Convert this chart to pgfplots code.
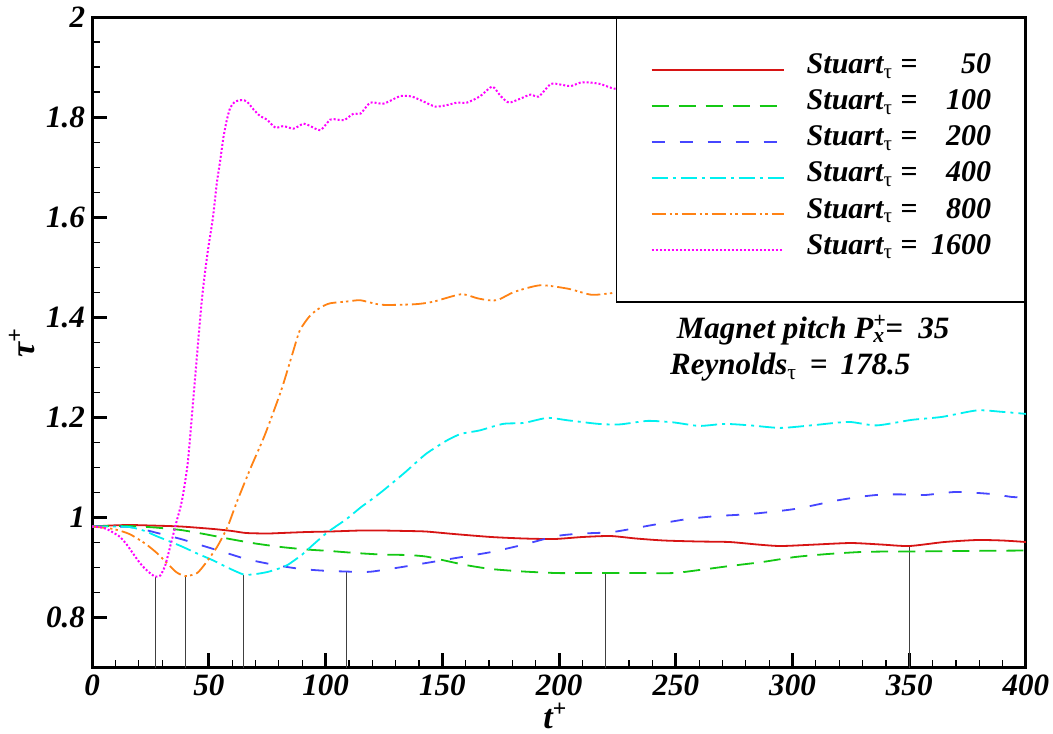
\documentclass[border=0pt]{standalone}
\usepackage{fontspec}
\setmainfont{Liberation Serif}
\usepackage{pgfplots}
\pgfplotsset{compat=1.18}
\usetikzlibrary{calc}
\definecolor{cRed}{RGB}{215,20,20}
\definecolor{cGreen}{RGB}{20,200,20}
\definecolor{cBlue}{RGB}{70,70,255}
\definecolor{cCyan}{RGB}{0,240,240}
\definecolor{cOrange}{RGB}{255,130,20}
\definecolor{cMag}{RGB}{255,0,255}
\begin{document}
\begin{tikzpicture}[font=\fontsize{15}{18}\selectfont\bfseries\itshape]
\begin{axis}[
  scale only axis, width=466.5pt, height=325pt,
  xmin=0, xmax=400, ymin=0.7, ymax=2,
  xtick={0,50,...,400}, ytick={0.8,1,1.2,1.4,1.6,1.8,2},
  minor x tick num=4, minor y tick num=3,
  tick align=inside, xtick pos=bottom, ytick pos=left,
  major tick length=7.5pt, minor tick length=4pt,
  axis line style={line width=1.5pt},
  every tick/.style={black},
  major tick style={line width=1.5pt},
  minor tick style={line width=0.6pt},
  /pgf/number format/assume math mode=true,
  ticklabel style={font=\fontsize{15.5}{18}\selectfont\bfseries\itshape},
  xlabel={t\textsuperscript{+}}, ylabel={τ\textsuperscript{+}},
  label style={font=\fontsize{17}{20}\selectfont\bfseries\itshape},
  xlabel style={at={(axis description cs:0.496,-0.074)}, anchor=center},
  ylabel style={at={(axis description cs:-0.075,0.5)}, anchor=center},
  legend style={at={(1,1)}, anchor=north east, draw=black, line width=0.8pt, fill=white,
    inner xsep=17pt, inner ysep=17pt, row sep=0pt,
    font=\fontsize{15}{18}\selectfont\bfseries\itshape,
    nodes={inner sep=0pt, text height=11pt, text depth=7pt}},
  legend image code/.code={\draw[#1] (0pt,0pt) -- (66pt,0pt);},
  legend cell align=left,
  legend style={/tikz/every odd column/.append style={column sep=11pt}},
  smooth, tension=0.4,
]
% minimum markers
\addplot[black!75, line width=0.5pt, forget plot, sharp plot] coordinates {(27,0.7) (27,0.882)};
\addplot[black!75, line width=0.5pt, forget plot, sharp plot] coordinates {(40,0.7) (40,0.883)};
\addplot[black!75, line width=0.5pt, forget plot, sharp plot] coordinates {(65,0.7) (65,0.886)};
\addplot[black!75, line width=0.5pt, forget plot, sharp plot] coordinates {(109,0.7) (109,0.892)};
\addplot[black!75, line width=0.5pt, forget plot, sharp plot] coordinates {(220,0.7) (220,0.889)};
\addplot[black!75, line width=0.5pt, forget plot, sharp plot] coordinates {(350,0.7) (350,0.943)};

\addplot[cRed, line width=0.9pt] coordinates {
(0,0.982) (8,0.984) (16,0.985) (25,0.984) (38,0.982) (52,0.977) (60,0.973) (66,0.969) (75,0.968) (81,0.969) (92,0.971) (102,0.972) (115,0.974) (124,0.974) (135,0.973) (143,0.972) (155,0.967) (171,0.961) (185,0.958) (198,0.957) (210,0.961) (222,0.963) (233,0.958) (245,0.954) (260,0.952) (273,0.951) (285,0.946) (295,0.943) (310,0.946) (325,0.949) (338,0.946) (350,0.943) (365,0.951) (379,0.955) (390,0.954) (400,0.951)};
\addlegendentry{Stuart\textsubscript{\normalfont τ} = \makebox[33pt][r]{50}}

\addplot[cGreen, line width=0.9pt, dash pattern=on 8.5pt off 5pt] coordinates {
(0,0.982) (8,0.983) (16,0.983) (27,0.98) (38,0.975) (48,0.967) (59,0.957) (70,0.948) (81,0.941) (92,0.936) (102,0.933) (113,0.929) (124,0.926) (135,0.925) (143,0.922) (152,0.913) (160,0.905) (171,0.897) (185,0.892) (199,0.889) (210,0.889) (220,0.889) (235,0.889) (249,0.889) (260,0.895) (273,0.903) (287,0.911) (301,0.921) (315,0.927) (329,0.931) (340,0.932) (350,0.932) (370,0.933) (400,0.934)};
\addlegendentry{Stuart\textsubscript{\normalfont τ} = \makebox[33pt][r]{100}}

\addplot[cBlue, line width=0.9pt, dash pattern=on 6.5pt off 7.5pt] coordinates {
(0,0.982) (9,0.982) (16,0.981) (22,0.976) (28,0.969) (38,0.957) (45,0.947) (52,0.937) (59,0.927) (66,0.917) (74,0.909) (81,0.903) (88,0.898) (95,0.895) (102,0.893) (109,0.892) (115,0.891) (120,0.892) (130,0.899) (143,0.909) (157,0.92) (171,0.931) (185,0.946) (199,0.963) (210,0.968) (223,0.971) (240,0.985) (255,0.997) (268,1.003) (282,1.007) (301,1.017) (319,1.034) (330,1.042) (339,1.046) (350,1.046) (357,1.045) (370,1.051) (385,1.047) (394,1.041) (400,1.04)};
\addlegendentry{Stuart\textsubscript{\normalfont τ} = \makebox[33pt][r]{200}}

\addplot[cCyan, line width=0.9pt, dash pattern=on 8pt off 2.5pt on 1.5pt off 2.5pt] coordinates {
(0,0.982) (9,0.982) (16,0.981) (22,0.974) (28,0.962) (38,0.943) (45,0.928) (52,0.914) (58,0.9) (65,0.886) (70,0.887) (75,0.891) (80,0.898) (84,0.906) (90,0.926) (95,0.947) (101,0.971) (109,0.997) (115,1.02) (120,1.037) (125,1.055) (134,1.09) (143,1.127) (152,1.154) (158,1.167) (166,1.174) (176,1.187) (185,1.189) (195,1.199) (204,1.194) (217,1.187) (226,1.186) (238,1.193) (249,1.19) (260,1.183) (271,1.187) (282,1.184) (295,1.179) (310,1.185) (324,1.191) (336,1.184) (351,1.195) (364,1.201) (379,1.214) (390,1.211) (400,1.207)};
\addlegendentry{Stuart\textsubscript{\normalfont τ} = \makebox[33pt][r]{400}}

\addplot[cOrange, line width=0.9pt, dash pattern=on 7pt off 2pt on 1.2pt off 1.6pt on 1.2pt off 2pt] coordinates {
(0,0.982) (9,0.977) (16,0.967) (23,0.947) (28,0.928) (31,0.914) (36,0.891) (40,0.883) (45,0.889) (49,0.911) (53.5,0.941) (58,0.981) (62,1.031) (68,1.1) (74,1.165) (81,1.254) (86,1.33) (89,1.374) (93.5,1.404) (98,1.42) (102,1.428) (110,1.432) (115,1.434) (124,1.425) (138,1.426) (146,1.431) (158,1.446) (165,1.438) (170,1.434) (174,1.435) (181,1.451) (192,1.464) (204,1.457) (214,1.445) (224,1.449) (240,1.455) (260,1.46) (280,1.452) (300,1.465) (330,1.47) (360,1.46) (400,1.47)};
\addlegendentry{Stuart\textsubscript{\normalfont τ} = \makebox[33pt][r]{800}}

\addplot[cMag, line width=1pt, dash pattern=on 1pt off 1pt] coordinates {
(0,0.982) (3,0.981) (6.3,0.977) (9,0.97) (12,0.961) (15,0.945) (17.7,0.927) (20,0.912) (22,0.901) (24.5,0.89) (27,0.882) (29.2,0.884) (31.3,0.904) (33.4,0.941) (36.3,0.994) (38.5,1.034) (41,1.11) (43.3,1.234) (47,1.434) (49.5,1.53) (51.7,1.597) (53.4,1.667) (54.9,1.714) (56.3,1.761) (57.7,1.794) (59.2,1.819) (61.3,1.831) (64.2,1.834) (66.3,1.831) (69.2,1.815) (72,1.802) (74.9,1.795) (78.5,1.779) (82,1.782) (86.3,1.777) (90.6,1.787) (93.5,1.782) (97.8,1.774) (102,1.795) (105,1.795) (108,1.794) (112,1.807) (115,1.807) (119.2,1.829) (124.9,1.827) (132,1.842) (137,1.841) (142,1.831) (147,1.821) (152,1.824) (156.4,1.829) (160.6,1.829) (166.3,1.842) (171.4,1.861) (175,1.842) (178.5,1.829) (183.5,1.837) (187.8,1.845) (191.3,1.841) (196.4,1.866) (200.6,1.865) (205,1.862) (209.2,1.869) (213.5,1.869) (217.8,1.866) (222,1.859) (225,1.857) (240,1.87) (270,1.88) (300,1.87) (340,1.89) (400,1.88)};
\addlegendentry{Stuart\textsubscript{\normalfont τ} = \makebox[33pt][r]{1600}}

\node[anchor=west, inner sep=0pt, font=\fontsize{15.5}{18}\selectfont\bfseries\itshape] at (axis cs:250.3,1.374) {Magnet pitch P\rlap{\textsuperscript{+}}\textsubscript{x}= \ 35};
\node[anchor=west, inner sep=0pt, font=\fontsize{15.5}{18}\selectfont\bfseries\itshape] at (axis cs:247.4,1.300) {Reynolds\textsubscript{\normalfont τ}\, = \,178.5};
\end{axis}
\pgfresetboundingbox
\path[use as bounding box] ($(current axis.south west)+(-46pt,-33pt)$) rectangle ($(current axis.north east)+(13.5pt,8.5pt)$);
\end{tikzpicture}
\end{document}
